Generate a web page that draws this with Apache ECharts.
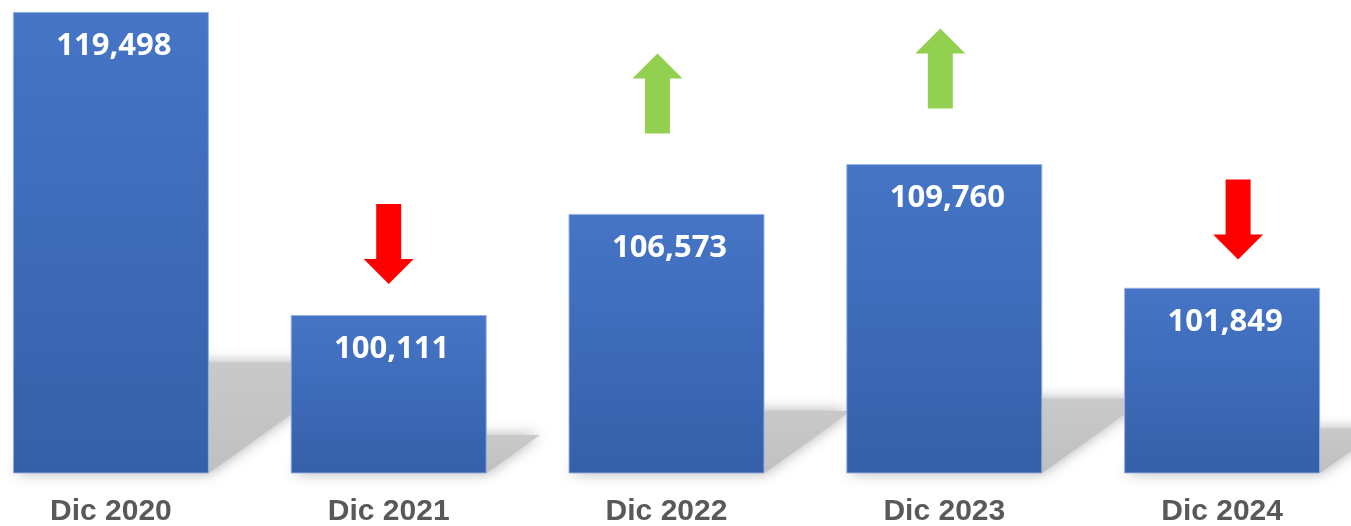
<!DOCTYPE html>
<html>
<head>
<meta charset="utf-8">
<title>Dic 2020 - Dic 2024</title>
<script src="https://cdn.jsdelivr.net/npm/echarts@6/dist/echarts.min.js"></script>
<style>
  html, body { margin: 0; padding: 0; background: #fff; }
  #chart { width: 1351px; height: 526px; }
</style>
</head>
<body>
<div id="chart"></div>
<script>
// datos
var categories = ['Dic 2020', 'Dic 2021', 'Dic 2022', 'Dic 2023', 'Dic 2024'];
var values = [119498, 100111, 106573, 109760, 101849];
// nivel (en unidades del eje) del centro de cada flecha
var arrowLevels = [null, 104650, 114280, 115880, 106220];
var arrowDirections = [null, 'down', 'up', 'up', 'down'];

// estilo
var arrowNudge = [0, 0, -9, -4, 16];
var yMin = 90000, yMax = 120000;
var barW = 196;
var upPath = 'path://M25,0 L50,25 L37.5,25 L37.5,80 L12.5,80 L12.5,25 L0,25 Z';
var downPath = 'path://M12.5,0 L37.5,0 L37.5,55 L50,55 L25,80 L0,55 L12.5,55 Z';

var chart = echarts.init(document.getElementById('chart'));

var shadowData = values.map(function (v, i) { return [i, v]; });

var arrowData = [];
for (var i = 0; i < arrowLevels.length; i++) {
  if (arrowLevels[i] == null) continue;
  var up = arrowDirections[i] === 'up';
  arrowData.push({
    value: [i, arrowLevels[i]],
    symbol: up ? upPath : downPath,
    symbolOffset: [arrowNudge[i], 0],
    itemStyle: { color: up ? '#92d050' : '#ff0000', opacity: 1 }
  });
}

var option = {
  animation: false,
  grid: { left: -28, right: -10, top: 4, bottom: 53, outerBoundsMode: 'none', containLabel: false },
  xAxis: {
    type: 'category',
    data: categories,
    axisLine: { show: false },
    axisTick: { show: false },
    axisLabel: {
      margin: 24,
      color: '#595959',
      fontSize: 30,
      fontWeight: 'bold',
      fontFamily: 'Liberation Sans, Arial, sans-serif'
    }
  },
  yAxis: {
    type: 'value',
    min: yMin,
    max: yMax,
    show: false,
    splitLine: { show: false }
  },
  series: [
    {
      // sombra en perspectiva detras de cada barra
      type: 'custom',
      z: 1,
      silent: true,
      data: shadowData,
      renderItem: function (params, api) {
        var top = api.coord([api.value(0), api.value(1)]);
        var base = api.coord([api.value(0), yMin]);
        var h = base[1] - top[1];
        var hk = h * 0.24;
        var dx = hk * 1.4;
        var l = base[0] - barW / 2, r = base[0] + barW / 2, yb = base[1];
        return {
          type: 'polygon',
          shape: { points: [[l, yb], [r, yb], [r + dx, yb - hk], [l + dx, yb - hk]] },
          style: {
            fill: new echarts.graphic.LinearGradient(0, 0, 0, 1, [
              { offset: 0, color: '#c9c9c9' },
              { offset: 1, color: '#c0c0c0' }
            ]),
            shadowBlur: 14,
            shadowColor: 'rgba(160,160,160,0.85)'
          }
        };
      }
    },
    {
      type: 'bar',
      z: 3,
      barWidth: barW,
      data: values,
      itemStyle: {
        color: new echarts.graphic.LinearGradient(0, 0, 0, 1, [
          { offset: 0, color: '#4675c7' },
          { offset: 1, color: '#3560a9' }
        ]),
        borderColor: 'rgba(150,178,225,0.9)',
        borderWidth: 1
      },
      label: {
        show: true,
        position: 'insideTop',
        distance: 19,
        offset: [3, 0],
        color: '#ffffff',
        fontSize: 31,
        fontWeight: 'bold',
        fontFamily: 'Open Sans, sans-serif',
        formatter: function (p) { return p.value.toLocaleString('en-US'); }
      }
    },
    {
      type: 'scatter',
      z: 4,
      silent: true,
      symbolSize: [50, 80],
      data: arrowData
    }
  ]
};

chart.setOption(option);
</script>
</body>
</html>
